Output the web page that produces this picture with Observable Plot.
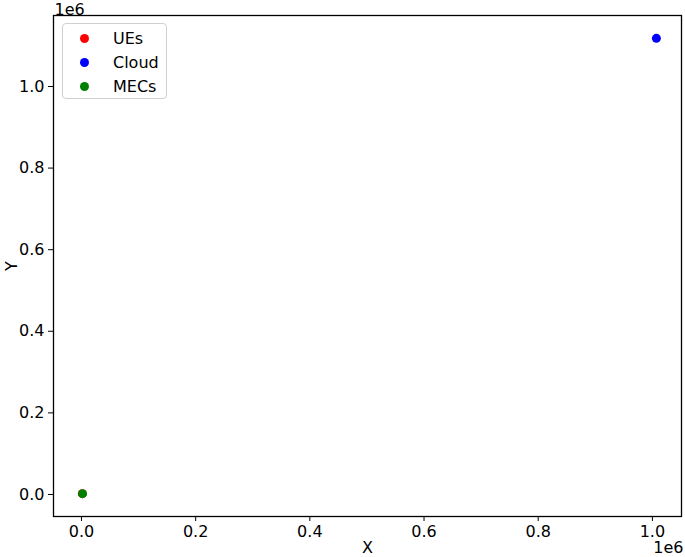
<!DOCTYPE html>
<html>
<head>
<meta charset="utf-8">
<script src="https://cdn.jsdelivr.net/npm/d3@7"></script>
<script src="https://cdn.jsdelivr.net/npm/@observablehq/plot@0.6"></script>
<style>
  html, body { margin: 0; padding: 0; background: #fff; }
  #wrap { position: relative; width: 685px; height: 557px; overflow: hidden; font-family: "DejaVu Sans", sans-serif; }
  #legend { position: absolute; left: 62px; top: 23px; width: 103px; height: 74px; border: 1px solid #d0d0d0; border-radius: 4px; background: rgba(255,255,255,0.8); font-size: 16px; }
  .item { position: absolute; left: 0; height: 20px; display: flex; align-items: center; }
  .item span.dot { display: inline-block; width: 9px; height: 9px; border-radius: 50%; margin-left: 17px; margin-right: 24px; }
</style>
</head>
<body>
<div id="wrap"></div>
<script>
const seriesNames = ["UEs", "Cloud", "MECs"];
const seriesColors = ["#ff0000", "#0000ff", "#008000"];
const ueX = [1500];
const ueY = [2000];
const cloudX = [1007000];
const cloudY = [1118000];
const mecX = [1800];
const mecY = [2000];
const xTicks = [0, 200000, 400000, 600000, 800000, 1000000];
const yTicks = [0, 200000, 400000, 600000, 800000, 1000000];

const pts = [];
ueX.forEach((v, i) => pts.push({x: v, y: ueY[i], s: "UEs"}));
cloudX.forEach((v, i) => pts.push({x: v, y: cloudY[i], s: "Cloud"}));
mecX.forEach((v, i) => pts.push({x: v, y: mecY[i], s: "MECs"}));

const fmt = d => (d / 1e6).toFixed(1);

const chart = Plot.plot({
  width: 685,
  height: 557,
  marginLeft: 53,
  marginRight: 4,
  marginTop: 15,
  marginBottom: 41,
  style: {fontFamily: "DejaVu Sans, sans-serif", fontSize: "16px", color: "#000", background: "#fff"},
  x: {domain: [-49000, 1051000], ticks: xTicks},
  y: {domain: [-54000, 1174000], ticks: yTicks},
  color: {domain: seriesNames, range: seriesColors},
  marks: [
    Plot.frame({stroke: "#000", strokeWidth: 1.3}),
    Plot.axisX({ticks: xTicks, tickFormat: fmt, tickSize: 5, tickPadding: 4, fontSize: 16, label: "X", labelAnchor: "center", labelArrow: "none", labelOffset: 36}),
    Plot.axisY({ticks: yTicks, tickFormat: fmt, tickSize: 5, tickPadding: 4, fontSize: 16, label: "Y", labelAnchor: "center", labelArrow: "none", labelOffset: 48}),
    Plot.dot(pts, {x: "x", y: "y", fill: "s", r: 4.5}),
    Plot.text(["1e6"], {frameAnchor: "top-left", lineAnchor: "bottom", dy: -1, dx: 1, fontSize: 16, textAnchor: "start"}),
    Plot.text(["1e6"], {frameAnchor: "bottom-right", lineAnchor: "bottom", dy: 36, dx: 2, fontSize: 16, textAnchor: "end"})
  ]
});
const wrap = document.getElementById("wrap");
wrap.appendChild(chart);

const legend = document.createElement("div");
legend.id = "legend";
seriesNames.forEach((name, i) => {
  const it = document.createElement("div");
  it.className = "item";
  it.style.top = (4 + i * 24) + "px";
  const dot = document.createElement("span");
  dot.className = "dot";
  dot.style.background = seriesColors[i];
  const t = document.createElement("span");
  t.textContent = name;
  it.appendChild(dot);
  it.appendChild(t);
  legend.appendChild(it);
});
wrap.appendChild(legend);
</script>
</body>
</html>
